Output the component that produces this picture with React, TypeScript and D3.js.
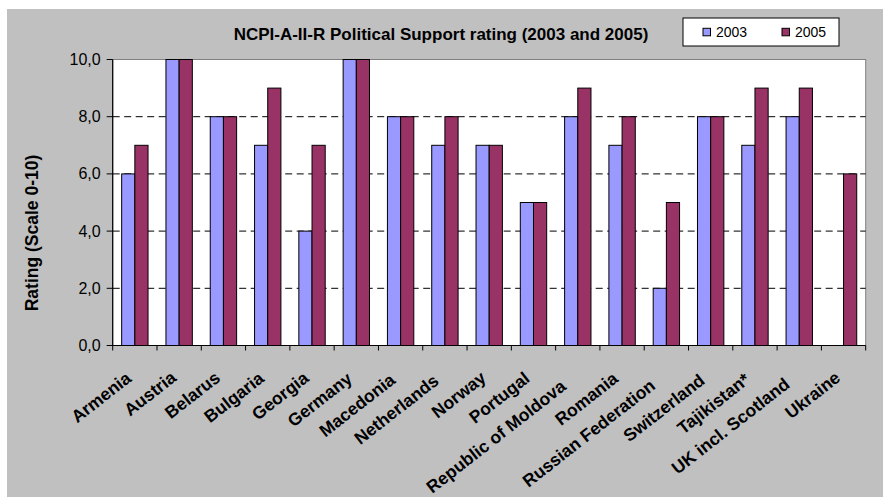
import React from "react";
import * as d3 from "d3";

const categories = [
  "Armenia", "Austria", "Belarus", "Bulgaria", "Georgia", "Germany", "Macedonia",
  "Netherlands", "Norway", "Portugal", "Republic of Moldova", "Romania",
  "Russian Federation", "Switzerland", "Tajikistan*", "UK incl. Scotland", "Ukraine",
];
const values2003: (number | null)[] = [6, 10, 8, 7, 4, 10, 8, 7, 7, 5, 8, 7, 2, 8, 7, 8, null];
const values2005: (number | null)[] = [7, 10, 8, 9, 7, 10, 8, 8, 7, 5, 9, 8, 5, 8, 9, 9, 6];
const seriesNames = ["2003", "2005"];
const seriesColors = ["#9999FF", "#993366"];
const yTicks = [0, 2, 4, 6, 8, 10];
const title = "NCPI-A-II-R Political Support rating (2003 and 2005)";
const yLabel = "Rating (Scale 0-10)";

const W = 883, H = 497;
const L = 112.7, R = 865.7, T = 59.5, B = 345.5;
const FONT = "'Liberation Sans', Arial, sans-serif";
const CAT_FONT_SIZE = 17.5;

function measure(text: string, font: string): number {
  try {
    const c = document.createElement("canvas");
    const ctx = c.getContext("2d");
    if (ctx) {
      ctx.font = font;
      return ctx.measureText(text).width;
    }
  } catch (e) {}
  return text.length * CAT_FONT_SIZE * 0.55;
}

export default function App() {
  const x = d3.scaleBand<string>().domain(categories).range([L, R]).padding(0);
  const y = d3.scaleLinear().domain([0, 10]).range([B, T]);
  const catW = x.bandwidth();
  const bw = catW / 3.36;
  const groupOff = (catW - 2 * bw) / 2;
  const fmt = (v: number) => v.toFixed(1).replace(".", ",");
  const series = [values2003, values2005];

  return (
    <svg width={W} height={H} style={{ position: "absolute", left: 0, top: 0 }}>
      <rect x={7} y={9} width={W - 7} height={H - 9} fill="#c0c0c0" />
      <rect x={L} y={T} width={R - L} height={B - T} fill="#ffffff" stroke="#808080" strokeWidth={1} />
      {yTicks.filter((t) => t > 0 && t < 10).map((t) => (
        <line key={t} x1={L} x2={R} y1={y(t)} y2={y(t)} stroke="#000" strokeWidth={1} strokeDasharray="7,4.5" />
      ))}
      {series.map((vals, si) =>
        vals.map((v, i) =>
          v == null ? null : (
            <rect
              key={`${si}-${i}`}
              x={(x(categories[i]) as number) + groupOff + si * bw}
              y={y(v)}
              width={bw}
              height={B - y(v)}
              fill={seriesColors[si]}
              stroke="#000"
              strokeWidth={1}
            />
          )
        )
      )}
      <line x1={L} x2={L} y1={T} y2={B} stroke="#000" strokeWidth={1.2} />
      <line x1={L - 5} x2={R} y1={B} y2={B} stroke="#000" strokeWidth={1.2} />
      {yTicks.map((t) => (
        <g key={t}>
          <line x1={L - 6} x2={L} y1={y(t)} y2={y(t)} stroke="#000" />
          <text x={L - 12} y={y(t) + 5.5} textAnchor="end" fontFamily={FONT} fontSize={16} fill="#000">
            {fmt(t)}
          </text>
        </g>
      ))}
      {categories.concat(["__end"]).map((c, i) => {
        const xx = L + i * catW;
        return <line key={c} x1={xx} x2={xx} y1={B} y2={B + 5} stroke="#000" />;
      })}
      {categories.map((c) => {
        const len = measure(c, `bold ${CAT_FONT_SIZE}px 'Liberation Sans', Arial, sans-serif`);
        const shift = 0.08 * (len - 70);
        const cx = (x(c) as number) + catW / 2 - 2.5 - shift;
        const cy = 380.5 + shift;
        return (
          <text
            key={c}
            transform={`translate(${cx},${cy}) rotate(-38)`}
            textAnchor="end"
            fontFamily={FONT}
            fontWeight="bold"
            fontSize={CAT_FONT_SIZE}
            fill="#000"
          >
            {c}
          </text>
        );
      })}
      <text x={441} y={40} textAnchor="middle" fontFamily={FONT} fontWeight="bold" fontSize={17} fill="#000">
        {title}
      </text>
      <text
        transform={`translate(38,233) rotate(-90)`}
        textAnchor="middle"
        fontFamily={FONT}
        fontWeight="bold"
        fontSize={17.5}
        fill="#000"
      >
        {yLabel}
      </text>
      <rect x={683} y={18} width={156} height={28} fill="#fff" stroke="#000" strokeWidth={1} />
      {seriesNames.map((n, i) => (
        <g key={n}>
          <rect x={703 + i * 79} y={28.3} width={7.5} height={7.5} fill={seriesColors[i]} stroke="#000" strokeWidth={1} />
          <text x={716 + i * 79} y={37} fontFamily={FONT} fontSize={14} fill="#000">
            {n}
          </text>
        </g>
      ))}
    </svg>
  );
}
